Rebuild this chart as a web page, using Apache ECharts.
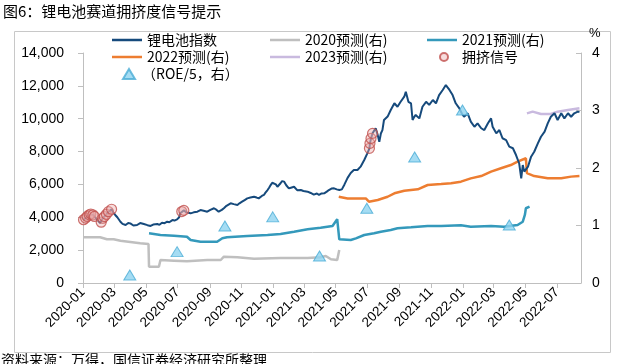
<!DOCTYPE html>
<html>
<head>
<meta charset="utf-8">
<script src="https://cdn.jsdelivr.net/npm/echarts@6/dist/echarts.min.js"></script>
<style>
html,body{margin:0;padding:0;background:#fff;}
#c{width:617px;height:364px;}
</style>
</head>
<body>
<div id="c"></div>
<script>
// ---------- data ----------
const indexData = [
['2020-01-02',3850],['2020-01-06',3950],['2020-01-09',4050],['2020-01-13',4150],['2020-01-16',4200],['2020-01-20',4150],['2020-01-23',4050],['2020-02-03',3650],['2020-02-05',3700],['2020-02-08',3940],['2020-02-11',4040],['2020-02-15',4180],['2020-02-19',4340],['2020-02-25',4490],['2020-02-28',4300],['2020-03-03',4140],['2020-03-07',4000],['2020-03-13',3730],['2020-03-17',3600],['2020-03-23',3530],['2020-03-28',3650],['2020-04-01',3630],['2020-04-07',3500],['2020-04-14',3530],['2020-04-20',3650],['2020-04-27',3590],['2020-05-04',3520],['2020-05-10',3470],['2020-05-15',3560],['2020-05-23',3590],['2020-05-27',3540],['2020-06-01',3670],['2020-06-06',3640],['2020-06-11',3730],['2020-06-15',3700],['2020-06-21',3830],['2020-06-25',3800],['2020-06-30',3870],['2020-07-04',4000],['2020-07-06',4240],['2020-07-09',4350],['2020-07-13',4420],['2020-07-18',4300],['2020-07-26',4240],['2020-08-01',4300],['2020-08-08',4340],['2020-08-14',4440],['2020-08-20',4400],['2020-08-27',4340],['2020-09-02',4450],['2020-09-09',4550],['2020-09-14',4450],['2020-09-18',4340],['2020-09-24',4450],['2020-09-28',4550],['2020-10-03',4700],['2020-10-11',4850],['2020-10-17',4800],['2020-10-24',4750],['2020-10-28',4850],['2020-11-02',4950],['2020-11-07',5050],['2020-11-12',5150],['2020-11-18',5200],['2020-11-25',5250],['2020-11-30',5200],['2020-12-04',5150],['2020-12-10',5300],['2020-12-14',5360],['2020-12-17',5500],['2020-12-21',5660],['2020-12-24',5800],['2020-12-27',5960],['2020-12-30',6100],['2021-01-02',6170],['2021-01-06',6000],['2021-01-09',5860],['2021-01-12',5950],['2021-01-15',6070],['2021-01-18',6200],['2021-01-22',6170],['2021-01-26',5950],['2021-01-31',5760],['2021-02-04',5800],['2021-02-10',5860],['2021-02-16',5650],['2021-02-23',5660],['2021-02-28',5600],['2021-03-08',5560],['2021-03-14',5480],['2021-03-20',5380],['2021-03-26',5450],['2021-03-30',5360],['2021-04-04',5450],['2021-04-09',5460],['2021-04-14',5560],['2021-04-18',5660],['2021-04-23',5750],['2021-04-28',5760],['2021-05-03',5700],['2021-05-08',5660],['2021-05-13',5700],['2021-05-18',6000],['2021-05-24',6400],['2021-05-30',6700],['2021-06-05',6880],['2021-06-12',6880],['2021-06-18',7080],['2021-06-25',7490],['2021-07-01',7890],['2021-07-05',8200],['2021-07-06',8500],['2021-07-08',8800],['2021-07-11',9110],['2021-07-17',9420],['2021-07-21',9000],['2021-07-24',8600],['2021-07-27',9100],['2021-07-30',9310],['2021-08-02',9920],['2021-08-09',10130],['2021-08-15',10530],['2021-08-22',10940],['2021-08-28',10730],['2021-09-03',11030],['2021-09-10',11340],['2021-09-13',11640],['2021-09-18',11030],['2021-09-23',10940],['2021-09-26',9920],['2021-09-29',10100],['2021-10-02',10230],['2021-10-09',10020],['2021-10-15',10730],['2021-10-22',11030],['2021-10-28',10840],['2021-11-04',11140],['2021-11-10',10940],['2021-11-16',11440],['2021-11-23',11750],['2021-11-29',12050],['2021-12-06',11750],['2021-12-12',11440],['2021-12-18',10940],['2021-12-25',10630],['2021-12-30',10300],['2022-01-03',10120],['2022-01-10',10330],['2022-01-16',9820],['2022-01-23',9510],['2022-01-29',9720],['2022-02-05',9420],['2022-02-11',9310],['2022-02-18',9720],['2022-02-24',10020],['2022-02-27',9510],['2022-03-06',9110],['2022-03-12',9310],['2022-03-18',8810],['2022-03-25',8700],['2022-03-31',8300],['2022-04-07',8200],['2022-04-13',7790],['2022-04-19',7290],['2022-04-23',6370],['2022-04-26',7180],['2022-04-29',6780],['2022-05-06',7080],['2022-05-12',7690],['2022-05-18',7990],['2022-05-25',8500],['2022-05-31',8900],['2022-06-07',9210],['2022-06-13',9720],['2022-06-19',10120],['2022-06-26',10330],['2022-07-02',9920],['2022-07-09',10330],['2022-07-15',10020],['2022-07-22',10330],['2022-07-28',10120],['2022-08-03',10330],['2022-08-10',10430],['2022-08-13',10400]
];

const forecast2020 = [
['2020-01-02',0.795],['2020-02-03',0.795],['2020-02-16',0.76],['2020-02-29',0.76],['2020-03-13',0.735],['2020-04-01',0.713],['2020-04-20',0.69],['2020-05-06',0.678],['2020-05-07',0.283],['2020-05-26',0.283],['2020-05-29',0.40],['2020-06-24',0.388],['2020-07-19',0.377],['2020-08-27',0.40],['2020-09-22',0.40],['2020-09-28',0.457],['2020-10-24',0.447],['2020-11-25',0.423],['2021-01-15',0.435],['2021-03-08',0.435],['2021-04-02',0.447],['2021-04-12',0.47],['2021-04-22',0.412],['2021-05-04',0.40],['2021-05-08',0.574]
];

const forecast2021 = [
['2020-05-07',0.864],['2020-05-29',0.835],['2020-06-24',0.823],['2020-07-19',0.805],['2020-07-26',0.748],['2020-08-14',0.718],['2020-09-15',0.718],['2020-09-25',0.777],['2020-10-04',0.794],['2020-11-12',0.817],['2020-12-21',0.835],['2021-01-15',0.852],['2021-02-10',0.892],['2021-03-08',0.933],['2021-04-02',0.962],['2021-04-25',0.991],['2021-05-04',1.11],['2021-05-08',0.76],['2021-05-30',0.748],['2021-06-09',0.777],['2021-06-25',0.835],['2021-07-14',0.864],['2021-07-27',0.892],['2021-08-15',0.922],['2021-08-28',0.951],['2021-09-23',0.968],['2021-10-25',0.991],['2021-11-20',0.991],['2021-12-28',1.003],['2022-01-16',0.979],['2022-02-24',0.991],['2022-03-21',0.979],['2022-04-16',1.009],['2022-04-26',1.066],['2022-04-30',1.183],['2022-05-02',1.30],['2022-05-09',1.33]
];

const forecast2022 = [
['2021-05-07',1.50],['2021-05-24',1.47],['2021-06-12',1.47],['2021-06-28',1.47],['2021-07-04',1.414],['2021-07-21',1.443],['2021-08-09',1.50],['2021-08-22',1.56],['2021-09-10',1.605],['2021-10-06',1.63],['2021-10-25',1.704],['2021-11-20',1.72],['2021-12-09',1.733],['2021-12-28',1.762],['2022-01-16',1.82],['2022-02-05',1.86],['2022-02-24',1.936],['2022-03-15',1.995],['2022-04-03',2.052],['2022-04-16',2.11],['2022-05-02',2.17],['2022-05-04',1.91],['2022-05-18',1.86],['2022-06-13',1.82],['2022-07-09',1.82],['2022-07-28',1.85],['2022-08-13',1.86]
];

const forecast2023 = [
['2022-05-04',2.95],['2022-05-15',2.98],['2022-05-31',2.94],['2022-06-19',2.94],['2022-07-02',2.98],['2022-07-22',3.01],['2022-08-13',3.04]
];

const crowdSignal = [
['2020-01-02',3850],['2020-01-06',3950],['2020-01-09',4050],['2020-01-13',4150],['2020-01-16',4200],['2020-01-20',4150],['2020-01-23',4050],['2020-02-05',3700],['2020-02-08',3940],['2020-02-11',4040],['2020-02-15',4180],['2020-02-19',4340],['2020-02-25',4490],['2020-07-09',4350],['2020-07-13',4420],['2021-07-05',8200],['2021-07-06',8500],['2021-07-08',8800],['2021-07-11',9110]
];

const roeQuarter = [
['2020-03-31',0.14],['2020-06-30',0.545],['2020-09-30',0.99],['2020-12-31',1.15],['2021-03-31',0.47],['2021-06-30',1.30],['2021-09-30',2.19],['2021-12-31',3.01],['2022-03-31',1.01]
];

const leftTicks = {min:0, max:14000, interval:2000};
const rightTicks = {min:0, max:4, interval:1};
const xRange = {min:'2020-01-01', max:'2022-08-16'};

const names = ['锂电池指数','2020预测(右)','2021预测(右)','2022预测(右)','2023预测(右)','拥挤信号','（ROE/5，右）'];

// ---------- chart ----------
const CJK = '"Noto Sans CJK SC", "Noto Sans", sans-serif';
const LAT = '"Liberation Sans", Arial, sans-serif';
const chart = echarts.init(document.getElementById('c'), null, {renderer:'canvas'});
const DAY = 86400000;

function leg(name, left, top, extra) {
  return Object.assign({
    show: true, data: [name], left: left, top: top, orient: 'horizontal',
    icon: 'rect', itemWidth: 30, itemHeight: 2.5, itemGap: 0, padding: 0,
    textStyle: {fontSize: 14, color: '#000', fontFamily: CJK},
    selectedMode: false
  }, extra || {});
}

const lineBase = {type:'line', symbol:'none', showSymbol:false, smooth:false, animation:false};

chart.setOption({
  animation: false,
  grid: {left: 83, right: 36, top: 53, bottom: 81, containLabel: false},
  legend: [
    leg(names[0], 112, 33),
    leg(names[1], 270, 33),
    leg(names[2], 427, 33),
    leg(names[3], 112, 50),
    leg(names[4], 270, 50),
    leg(names[5], 439, 50, {icon:'circle', itemWidth: 8, itemHeight: 8, textStyle:{fontSize:14,color:'#000',fontFamily:CJK,padding:[0,0,0,9]}}),
    leg(names[6], 122, 67, {icon:'triangle', itemWidth: 12, itemHeight: 10, textStyle:{fontSize:14,color:'#000',fontFamily:CJK,padding:[0,0,0,2]}})
  ],
  xAxis: {
    type: 'time', min: xRange.min, max: xRange.max,
    minInterval: 65*DAY, maxInterval: 65*DAY,
    axisLine: {show:true, lineStyle:{color:'#BFBFBF', width:1}},
    axisTick: {show:true, length:5, lineStyle:{color:'#BFBFBF'}},
    splitLine: {show:false},
    axisLabel: {
      rotate: 45, fontSize: 13.5, color: '#000', fontFamily: LAT, margin: 7,
      hideOverlap: false, showMinLabel: true, showMaxLabel: false,
      formatter: '{yyyy}-{MM}'
    }
  },
  yAxis: [
    {
      type:'value', min:leftTicks.min, max:leftTicks.max, interval:leftTicks.interval,
      position:'left',
      axisLine:{show:true, lineStyle:{color:'#BFBFBF'}},
      axisTick:{show:true, length:5, lineStyle:{color:'#BFBFBF'}},
      splitLine:{show:false},
      axisLabel:{fontSize:14, color:'#000', fontFamily:LAT, margin:19,
        formatter: v => v.toString().replace(/\B(?=(\d{3})+(?!\d))/g, ',')}
    },
    {
      type:'value', min:rightTicks.min, max:rightTicks.max, interval:rightTicks.interval,
      position:'right',
      axisLine:{show:true, lineStyle:{color:'#BFBFBF'}},
      axisTick:{show:true, inside:true, length:5, lineStyle:{color:'#BFBFBF'}},
      splitLine:{show:false},
      axisLabel:{fontSize:14, color:'#000', fontFamily:LAT, margin:11}
    }
  ],
  graphic: [
    {type:'text', left:3, top:4, style:{text:'图6：锂电池赛道拥挤度信号提示', fontSize:15, fill:'#000', fontFamily:CJK}},
    {type:'rect', shape:{x:14.5, y:31.5, width:596, height:321}, style:{fill:'none', stroke:'#C8C8C8', lineWidth:1}, silent:true},
    {type:'text', left:589, top:27, style:{text:'%', fontSize:13, fill:'#000', fontFamily:LAT}},
    {type:'text', left:1, top:353, style:{text:'资料来源：万得，国信证券经济研究所整理', fontSize:14, fill:'#000', fontFamily:CJK}}
  ],
  series: [
    Object.assign({}, lineBase, {name:names[1], yAxisIndex:1, data:forecast2020, lineStyle:{color:'#BFBFBF', width:2.5}, itemStyle:{color:'#BFBFBF'}, z:2}),
    Object.assign({}, lineBase, {name:names[2], yAxisIndex:1, data:forecast2021, lineStyle:{color:'#3499BB', width:2.5}, itemStyle:{color:'#3499BB'}, z:2}),
    Object.assign({}, lineBase, {name:names[3], yAxisIndex:1, data:forecast2022, lineStyle:{color:'#ED7D31', width:2.5}, itemStyle:{color:'#ED7D31'}, z:2}),
    Object.assign({}, lineBase, {name:names[4], yAxisIndex:1, data:forecast2023, lineStyle:{color:'#C9BADF', width:2.5}, itemStyle:{color:'#C9BADF'}, z:2}),
    Object.assign({}, lineBase, {name:names[0], yAxisIndex:0, data:indexData, lineStyle:{color:'#164A7C', width:2}, itemStyle:{color:'#164A7C'}, z:3}),
    {type:'scatter', name:names[5], yAxisIndex:0, data:crowdSignal, symbol:'circle', symbolSize:10,
      itemStyle:{color:'rgba(236,170,170,0.5)', borderColor:'#C0504D', borderWidth:1.2}, z:4, animation:false},
    {type:'scatter', name:names[6], yAxisIndex:1, data:roeQuarter, symbol:'triangle', symbolSize:[12,10],
      itemStyle:{color:'#8ED3F0', borderColor:'#4AADD6', borderWidth:1}, z:5, animation:false}
  ]
});
</script>
</body>
</html>
